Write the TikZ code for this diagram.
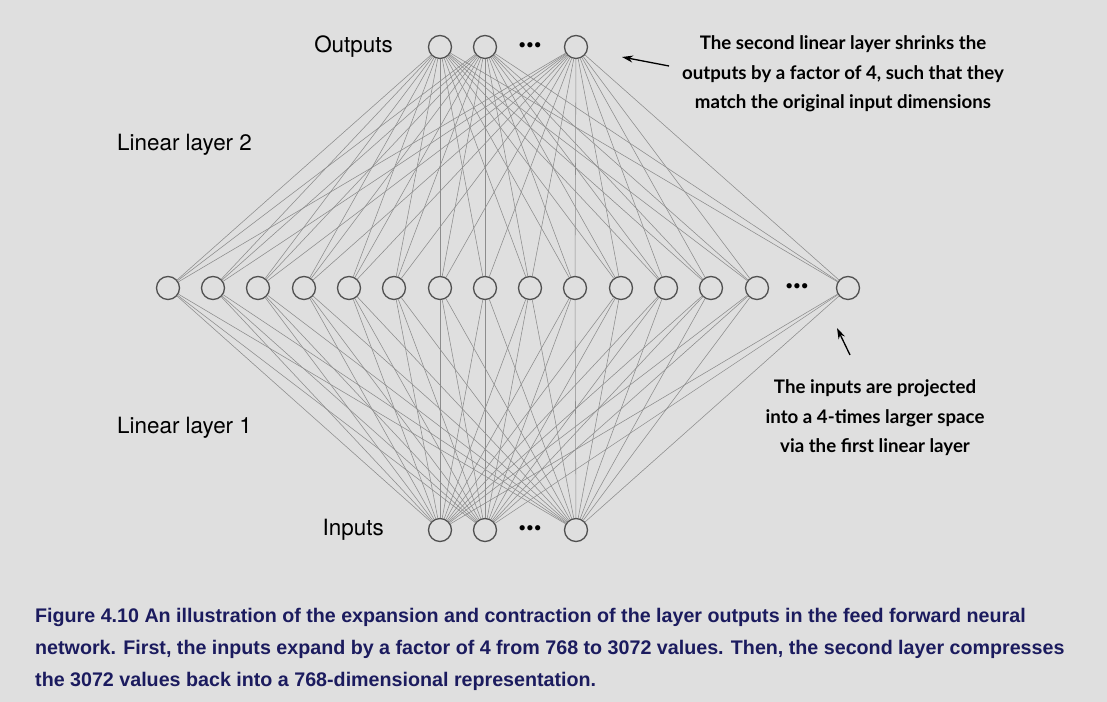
\documentclass[tikz,border=0pt]{standalone}
\usepackage{fontspec}
\setmainfont{TeX Gyre Heros}
\newfontfamily\notefont{Lato}
\newfontfamily\capfont{Liberation Sans}
\usepackage{tikz}
\usetikzlibrary{arrows.meta,positioning}
\definecolor{bggray}{RGB}{223,223,223}
\definecolor{navy}{RGB}{27,27,94}
\definecolor{rim}{RGB}{80,80,80}
\definecolor{wire}{RGB}{140,140,140}
\tikzstyle{Unit}=[shape=circle,draw=rim,line width=1.3bp,minimum size=23bp,inner sep=0pt]
\tikzstyle{wireedge}=[draw=wire,line width=0.55bp]
\tikzstyle{layerlabel}=[font=\fontsize{22.5}{26}\selectfont,inner sep=0pt]
\tikzstyle{note}=[font=\notefont\bfseries\fontsize{18.75}{29.5}\selectfont,align=center,inner sep=0pt]
\tikzstyle{pointer}=[-{Stealth[length=11bp,width=7bp]},line width=1.3bp]
\tikzstyle{moredots}=[font=\bfseries\fontsize{21}{21}\selectfont,inner sep=0pt]

\begin{document}
\begin{tikzpicture}[x=1bp,y=1bp]
 \fill[bggray] (0,0) rectangle (1107,702);
 \useasboundingbox (0,0) rectangle (1107,702);

 % output layer
 \node[Unit] (o1) at (440,655){};
 \node[Unit] (o2) at (485,655){};
 \node[moredots] (odots) at (530,655){\textbullet\kern0.5bp\textbullet\kern0.5bp\textbullet};
 \node[Unit] (o3) at (576,655){};

 % hidden layer
 \node[Unit] (h1) at (168,414){};
 \node[Unit] (h2) at (213,414){};
 \node[Unit] (h3) at (258,414){};
 \node[Unit] (h4) at (304,414){};
 \node[Unit] (h5) at (349,414){};
 \node[Unit] (h6) at (394,414){};
 \node[Unit] (h7) at (440,414){};
 \node[Unit] (h8) at (485,414){};
 \node[Unit] (h9) at (530,414){};
 \node[Unit] (h10) at (575,414){};
 \node[Unit] (h11) at (621,414){};
 \node[Unit] (h12) at (666,414){};
 \node[Unit] (h13) at (711,414){};
 \node[Unit] (h14) at (757,414){};
 \node[moredots] (hdots) at (797,414){\textbullet\kern0.5bp\textbullet\kern0.5bp\textbullet};
 \node[Unit] (h15) at (848,414){};

 % input layer
 \node[Unit] (i1) at (440,172){};
 \node[Unit] (i2) at (485,172){};
 \node[moredots] (idots) at (530,172){\textbullet\kern0.5bp\textbullet\kern0.5bp\textbullet};
 \node[Unit] (i3) at (576,172){};

 \foreach \h in {1,...,15}{
   \foreach \k in {1,2,3}{
     \draw[wireedge] (h\h) -- (o\k);
     \draw[wireedge] (h\h) -- (i\k);
   }
 }

 \node[layerlabel,anchor=east] (outlbl) at (393,655){Outputs};
 \node[layerlabel,anchor=east] (inlbl) at (384,172){Inputs};
 \node[layerlabel,anchor=west] (lay2) at (117,557){Linear layer 2};
 \node[layerlabel,anchor=west] (lay1) at (117,274){Linear layer 1};

 \node[note] (topnote) at (843,628){The second linear layer shrinks the\\outputs by a factor of 4, such that they\\match the original input dimensions};
 \node[note] (lownote) at (875,284){The inputs are projected\\into a 4-times larger space\\via the first linear layer};

 \coordinate (toptail) at (669,636);
 \coordinate (toptip) at (622,645);
 \coordinate (lowtail) at (850,347);
 \coordinate (lowtip) at (837,374);
 \draw[pointer] (toptail) -- (toptip);
 \draw[pointer] (lowtail) -- (lowtip);

 \node[anchor=north west,align=left,inner sep=0pt,text=navy,font=\capfont\bfseries\fontsize{19.75}{32}\selectfont] (caption) at (35,94){Figure 4.10 An illustration of the expansion and contraction of the layer outputs in the feed forward neural\\network. First, the inputs expand by a factor of 4 from 768 to 3072 values. Then, the second layer compresses\\the 3072 values back into a 768-dimensional representation.};
\end{tikzpicture}
\end{document}
